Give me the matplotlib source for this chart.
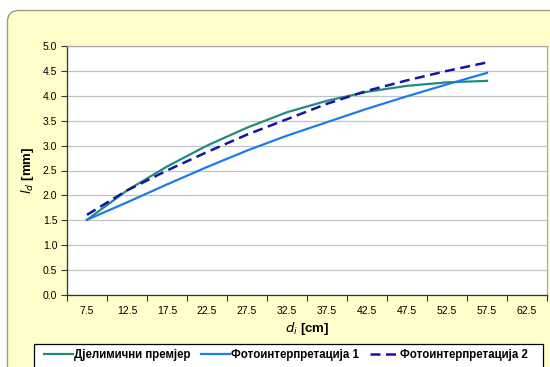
import matplotlib
matplotlib.use("Agg")
import matplotlib.pyplot as plt
from matplotlib.patches import FancyBboxPatch, Rectangle
from matplotlib.transforms import IdentityTransform
from matplotlib.ticker import MultipleLocator, FixedLocator, FormatStrFormatter

plt.rcParams['font.family'] = ['Liberation Sans', 'DejaVu Sans']

# Diameter classes (cm)
categories = ["7.5", "12.5", "17.5", "22.5", "27.5", "32.5", "37.5",
              "42.5", "47.5", "52.5", "57.5", "62.5"]

# Mean increment l_d (mm) per diameter class
djelimicni = [1.51, 2.10, 2.58, 3.00, 3.36, 3.67, 3.90, 4.08, 4.20, 4.27, 4.30]
foto1 = [1.51, 1.86, 2.22, 2.57, 2.90, 3.20, 3.47, 3.74, 3.99, 4.23, 4.46]
foto2 = [1.61, 2.10, 2.50, 2.87, 3.22, 3.53, 3.84, 4.10, 4.31, 4.50, 4.67]

series_names = ["Дјелимични премјер", "Фотоинтерпретација 1", "Фотоинтерпретација 2"]

W, H = 550, 367
fig = plt.figure(figsize=(W / 100, H / 100), dpi=100)
fig.patch.set_facecolor("white")

# rounded chart-area panel (pixel units, origin bottom-left)
panel = FancyBboxPatch((7.5, -20), 560, 367 - 10 - 0.5 + 20,
                       boxstyle="round,pad=0,rounding_size=11",
                       transform=IdentityTransform(),
                       facecolor="#FFFFCC", edgecolor="#9A9A8A", linewidth=1.0,
                       zorder=-10)
fig.patches.append(panel)

# legend frame, running off the bottom edge
legend_box = Rectangle((33.5, -10), 509, H - 344 + 10,
                       transform=IdentityTransform(),
                       facecolor="white", edgecolor="black", linewidth=0.9,
                       zorder=-5)
fig.patches.append(legend_box)

ax = fig.add_axes([67 / W, 1 - 295 / H, (547 - 67) / W, (295 - 46) / H])
ax.set_facecolor("white")

x = list(range(len(djelimicni)))
ax.plot(x, djelimicni, color="#1F8C7C", lw=1.6, label=series_names[0], zorder=3)
ax.plot(x, foto1, color="#1E7BEA", lw=1.6, label=series_names[1], zorder=3)
ax.plot(x, foto2, color="#1414A8", lw=1.8, ls=(0, (4, 2.2)), label=series_names[2], zorder=4)

ax.set_xlim(-0.5, len(categories) - 0.5)
ax.set_ylim(0, 5)
ax.yaxis.set_major_locator(MultipleLocator(0.5))
ax.yaxis.set_major_formatter(FormatStrFormatter("%.1f"))
ax.grid(axis="y", color="#C4C4C4", lw=0.9)
ax.set_axisbelow(True)

ax.set_xticks(range(len(categories)))
ax.set_xticklabels(categories)
ax.xaxis.set_minor_locator(FixedLocator([i - 0.5 for i in range(len(categories) + 1)]))
ax.tick_params(axis="x", which="major", length=0, pad=8, labelsize=7.5)
ax.tick_params(axis="x", which="minor", length=4, width=0.8, direction="out", color="#333333")
ax.tick_params(axis="y", length=4, width=0.8, direction="out", labelsize=7.5, color="#333333", pad=3)

for s in ("left", "bottom"):
    ax.spines[s].set_color("#333333")
    ax.spines[s].set_linewidth(0.9)
for s in ("top", "right"):
    ax.spines[s].set_color("#A8A8A8")
    ax.spines[s].set_linewidth(0.9)

ax.set_xlabel(r"$d_i$ [cm]", fontsize=9.5, fontweight="bold", labelpad=3)
ax.set_ylabel(r"$l_d$ [mm]", fontsize=9.5, fontweight="bold", labelpad=5)

leg = fig.legend(loc="center left", bbox_to_anchor=(44 / W, 1 - 355 / H), ncol=3,
                 frameon=False, fontsize=8.3,
                 handlelength=2.5, handletextpad=0.12, columnspacing=0.9,
                 borderpad=0, borderaxespad=0)
for t in leg.get_texts():
    t.set_fontweight("bold")

fig.savefig("out.png", dpi=100)
